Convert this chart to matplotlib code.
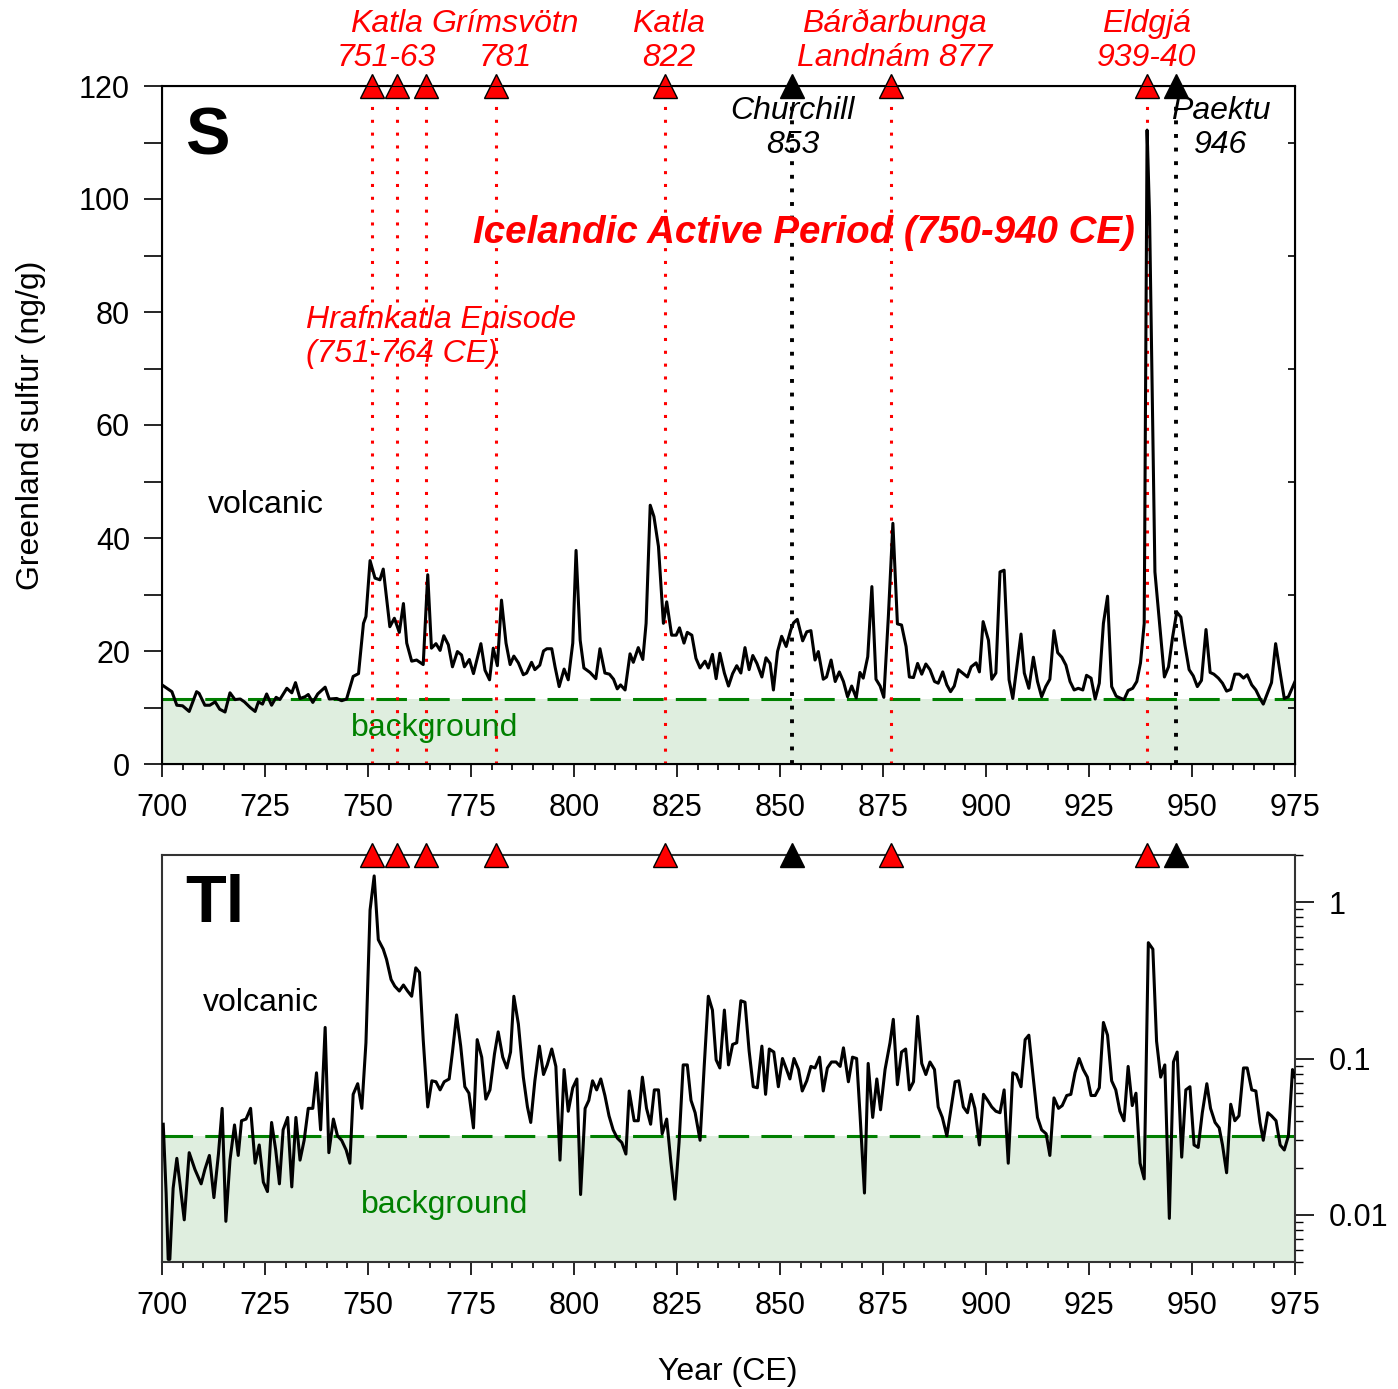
"""Greenland ice-core sulfur and thallium records, 700-975 CE."""

import matplotlib

matplotlib.use("Agg")
import matplotlib.pyplot as plt
import numpy as np
from matplotlib.ticker import FixedLocator, FuncFormatter, LogLocator, MultipleLocator, NullFormatter

plt.rcParams["font.family"] = ["Liberation Sans", "DejaVu Sans"]

RED = "#ff0000"
GREEN = "#008000"
SHADE = "#dfeedf"

# sulfur record (ng/g), digitised vertices
S_YEAR = [
    700.0, 702.4, 703.6, 705.0, 706.6, 708.4, 709.0, 710.4, 711.6, 712.9,
    714.0, 715.3, 716.5, 717.7, 719.0, 720.0, 721.4, 722.6, 723.4, 724.4,
    725.4, 726.6, 727.7, 728.6, 730.3, 731.5, 732.4, 733.5, 734.7, 735.5,
    736.6, 737.8, 739.6, 740.6, 742.4, 743.6, 744.8, 746.4, 747.7, 748.9,
    749.5, 750.5, 751.7, 752.9, 753.7, 755.3, 756.4, 757.6, 758.6, 759.4,
    760.6, 761.8, 763.4, 764.5, 765.4, 766.5, 767.5, 768.4, 769.5, 770.5,
    771.7, 772.7, 773.4, 774.6, 775.6, 777.4, 778.4, 779.5, 780.4, 781.4,
    782.4, 783.5, 784.5, 785.4, 786.5, 787.7, 788.5, 789.7, 790.5, 791.7,
    792.6, 793.4, 794.6, 795.4, 796.4, 797.6, 798.6, 799.7, 800.5, 801.5,
    802.4, 803.9, 805.3, 806.3, 807.5, 808.6, 809.6, 810.5, 811.3, 812.4,
    813.6, 814.4, 815.6, 816.7, 817.5, 818.5, 819.4, 820.5, 821.7, 822.5,
    823.7, 824.8, 825.6, 826.7, 827.5, 828.6, 829.6, 830.6, 831.8, 832.6,
    833.6, 834.5, 835.4, 836.5, 837.5, 838.5, 839.5, 840.5, 841.5, 842.5,
    843.4, 844.4, 845.6, 846.6, 847.6, 848.4, 849.4, 850.4, 851.5, 852.6,
    853.3, 854.2, 855.5, 856.5, 857.5, 858.5, 859.3, 860.5, 861.3, 862.4,
    863.4, 864.4, 865.4, 866.4, 867.4, 868.5, 869.4, 870.2, 871.3, 872.3,
    873.3, 874.3, 875.2, 876.3, 877.4, 878.5, 879.5, 880.6, 881.4, 882.4,
    883.4, 884.4, 885.4, 886.4, 887.5, 888.4, 889.5, 890.5, 891.4, 892.3,
    893.3, 894.3, 895.5, 896.4, 897.6, 898.4, 899.3, 900.6, 901.4, 902.4,
    903.4, 904.4, 905.6, 906.5, 907.4, 908.5, 909.3, 910.4, 911.5, 912.5,
    913.5, 914.5, 915.5, 916.5, 917.4, 918.4, 919.4, 920.4, 921.4, 922.4,
    923.5, 924.4, 925.5, 926.5, 927.5, 928.5, 929.5, 930.5, 931.6, 932.5,
    933.5, 934.5, 935.6, 936.6, 937.5, 938.4, 939.1, 939.7, 941.0, 942.2,
    943.3, 944.3, 945.3, 946.3, 947.3, 948.3, 949.3, 950.3, 951.3, 952.3,
    953.4, 954.4, 955.3, 956.4, 957.4, 958.4, 959.4, 960.4, 961.5, 962.5,
    963.4, 964.5, 965.5, 966.5, 967.3, 968.3, 969.3, 970.3, 971.4, 972.4,
    973.4, 975.0,
]
S_VALUE = [
    14.0, 12.8, 10.4, 10.3, 9.3, 12.8, 12.5, 10.4, 10.4, 11.0,
    9.7, 9.2, 12.6, 11.4, 11.5, 11.0, 10.0, 9.3, 11.0, 10.6,
    12.4, 10.4, 11.8, 11.4, 13.4, 12.6, 14.4, 11.6, 11.9, 12.3,
    10.9, 12.4, 13.6, 11.5, 11.6, 11.2, 11.5, 15.5, 16.0, 24.9,
    26.1, 36.0, 32.9, 32.6, 34.5, 24.3, 25.8, 23.3, 28.4, 21.4,
    18.2, 18.4, 17.6, 33.5, 20.5, 21.3, 20.1, 22.7, 21.1, 17.2,
    19.9, 19.3, 17.2, 18.5, 16.0, 21.3, 16.6, 14.9, 20.5, 17.4,
    29.0, 21.4, 17.6, 19.1, 17.9, 15.8, 16.1, 18.0, 16.7, 17.5,
    20.0, 20.4, 20.4, 17.2, 13.7, 16.8, 14.9, 21.4, 37.8, 21.9,
    17.0, 16.2, 15.1, 20.4, 16.1, 15.9, 15.0, 13.3, 14.0, 13.1,
    19.5, 18.0, 20.6, 18.5, 24.9, 45.8, 43.8, 38.5, 24.9, 28.7,
    22.8, 22.8, 24.1, 21.4, 23.3, 22.8, 18.7, 17.0, 18.2, 17.0,
    19.4, 15.1, 19.6, 16.1, 13.8, 16.0, 17.4, 16.1, 20.6, 16.7,
    19.2, 17.8, 15.4, 18.8, 17.8, 13.1, 19.9, 22.6, 20.8, 23.7,
    25.0, 25.6, 21.8, 23.4, 23.6, 18.4, 19.9, 15.0, 15.4, 18.4,
    14.6, 16.3, 14.6, 11.9, 13.8, 11.7, 16.2, 15.2, 19.0, 31.4,
    15.0, 13.8, 11.8, 26.1, 42.6, 24.8, 24.6, 20.8, 15.4, 15.3,
    17.8, 15.9, 17.7, 16.7, 14.6, 14.3, 16.3, 14.0, 12.8, 13.8,
    16.7, 16.1, 15.4, 17.2, 17.9, 16.3, 25.2, 21.9, 15.0, 16.1,
    34.0, 34.3, 14.9, 11.6, 16.7, 23.0, 16.1, 13.4, 18.9, 14.6,
    11.9, 13.7, 15.0, 23.6, 19.7, 18.9, 17.5, 14.6, 13.1, 13.4,
    13.1, 15.7, 15.2, 11.5, 14.3, 24.9, 29.7, 13.7, 12.0, 11.7,
    11.4, 13.0, 13.4, 14.6, 17.9, 24.9, 112.2, 97.0, 34.0, 24.3,
    15.4, 17.2, 22.5, 26.9, 26.0, 21.0, 16.7, 15.6, 13.7, 14.8,
    23.8, 16.2, 15.9, 15.2, 14.3, 12.9, 13.2, 15.9, 15.9, 15.2,
    15.8, 14.0, 13.1, 11.6, 10.6, 12.5, 14.4, 21.3, 16.1, 11.6,
    11.9, 14.6,
]

# thallium record (log axis), digitised vertices
TL_YEAR = [
    700.3, 701.0, 701.5, 701.9, 702.7, 703.6, 704.4, 705.4, 706.6, 708.0,
    709.5, 710.4, 711.5, 712.6, 713.7, 714.6, 715.5, 716.5, 717.6, 718.5,
    719.3, 720.4, 721.5, 722.6, 723.6, 724.6, 725.6, 726.6, 727.6, 728.5,
    729.4, 730.5, 731.5, 732.5, 733.5, 734.5, 735.5, 736.6, 737.5, 738.5,
    739.6, 740.5, 741.6, 742.6, 743.6, 744.7, 745.6, 746.4, 747.5, 748.5,
    749.5, 750.5, 751.5, 752.5, 753.7, 754.5, 755.6, 756.5, 757.6, 758.6,
    759.6, 760.6, 761.6, 762.5, 763.4, 764.5, 765.5, 766.5, 767.5, 768.5,
    769.7, 770.5, 771.5, 772.5, 773.5, 774.5, 775.6, 776.5, 777.6, 778.6,
    779.6, 780.7, 781.6, 782.7, 783.7, 784.6, 785.4, 786.5, 787.7, 788.7,
    789.5, 790.5, 791.6, 792.6, 793.5, 794.6, 795.6, 796.6, 797.6, 798.6,
    799.7, 800.7, 801.6, 802.7, 803.6, 804.5, 805.5, 806.5, 807.5, 808.5,
    809.5, 810.5, 811.6, 812.6, 813.4, 814.6, 815.6, 816.6, 817.6, 818.6,
    819.5, 820.5, 821.4, 822.5, 823.5, 824.5, 825.5, 826.5, 827.5, 828.4,
    829.4, 830.6, 831.6, 832.6, 833.6, 834.5, 835.4, 836.5, 837.5, 838.5,
    839.5, 840.5, 841.5, 842.5, 843.5, 844.5, 845.6, 846.5, 847.4, 848.5,
    849.6, 850.6, 851.6, 852.4, 853.4, 854.5, 855.4, 856.5, 857.5, 858.5,
    859.6, 860.5, 861.5, 862.5, 863.6, 864.6, 865.4, 866.6, 867.6, 868.6,
    869.4, 870.5, 871.4, 872.5, 873.5, 874.4, 875.5, 876.7, 877.5, 878.5,
    879.5, 880.5, 881.4, 882.4, 883.4, 884.4, 885.4, 886.4, 887.5, 888.4,
    889.4, 890.5, 891.4, 892.5, 893.4, 894.5, 895.5, 896.4, 897.3, 898.4,
    899.4, 900.4, 901.4, 902.4, 903.4, 904.4, 905.4, 906.5, 907.4, 908.5,
    909.5, 910.4, 911.5, 912.5, 913.5, 914.6, 915.5, 916.5, 917.6, 918.5,
    919.6, 920.6, 921.6, 922.6, 923.6, 924.6, 925.5, 926.5, 927.5, 928.5,
    929.5, 930.5, 931.5, 932.5, 933.5, 934.5, 935.5, 936.4, 937.4, 938.4,
    939.4, 940.5, 941.4, 942.4, 943.4, 944.5, 945.5, 946.4, 947.5, 948.5,
    949.5, 950.5, 951.5, 952.5, 953.6, 954.5, 955.6, 956.6, 957.4, 958.4,
    959.4, 960.4, 961.4, 962.5, 963.4, 964.5, 965.5, 966.5, 967.3, 968.4,
    969.3, 970.4, 971.4, 972.4, 973.4, 974.4, 975.0,
]
TL_VALUE = [
    0.038, 0.0138, 0.0052, 0.0052, 0.0148, 0.023, 0.0155, 0.0093, 0.025, 0.0195,
    0.0158, 0.0195, 0.024, 0.0129, 0.0245, 0.048, 0.0091, 0.0224, 0.0376, 0.024,
    0.040, 0.041, 0.048, 0.0214, 0.028, 0.0162, 0.0141, 0.039, 0.026, 0.0158,
    0.035, 0.042, 0.0151, 0.042, 0.0224, 0.030, 0.048, 0.048, 0.081, 0.035,
    0.158, 0.025, 0.041, 0.032, 0.030, 0.026, 0.0214, 0.059, 0.069, 0.048,
    0.126, 0.89, 1.47, 0.575, 0.50, 0.43, 0.32, 0.29, 0.27, 0.295,
    0.27, 0.25, 0.38, 0.355, 0.132, 0.049, 0.072, 0.071, 0.063, 0.071,
    0.074, 0.11, 0.19, 0.12, 0.066, 0.06, 0.036, 0.132, 0.102, 0.055,
    0.063, 0.107, 0.148, 0.102, 0.087, 0.11, 0.25, 0.166, 0.076, 0.049,
    0.039, 0.072, 0.12, 0.079, 0.091, 0.115, 0.089, 0.0224, 0.085, 0.046,
    0.065, 0.074, 0.0135, 0.048, 0.054, 0.072, 0.063, 0.074, 0.058, 0.043,
    0.035, 0.031, 0.029, 0.0245, 0.062, 0.040, 0.040, 0.076, 0.048, 0.038,
    0.063, 0.063, 0.033, 0.041, 0.022, 0.0126, 0.029, 0.091, 0.091, 0.054,
    0.045, 0.030, 0.089, 0.25, 0.204, 0.098, 0.087, 0.204, 0.091, 0.123,
    0.126, 0.234, 0.229, 0.112, 0.066, 0.065, 0.12, 0.059, 0.115, 0.11,
    0.066, 0.10, 0.085, 0.074, 0.10, 0.085, 0.062, 0.072, 0.089, 0.087,
    0.102, 0.062, 0.087, 0.095, 0.095, 0.089, 0.117, 0.071, 0.102, 0.10,
    0.045, 0.0138, 0.093, 0.042, 0.074, 0.047, 0.085, 0.126, 0.178, 0.068,
    0.11, 0.115, 0.063, 0.071, 0.186, 0.093, 0.079, 0.095, 0.085, 0.049,
    0.042, 0.032, 0.046, 0.071, 0.072, 0.049, 0.045, 0.059, 0.048, 0.028,
    0.059, 0.054, 0.049, 0.046, 0.045, 0.063, 0.0214, 0.081, 0.079, 0.066,
    0.132, 0.141, 0.074, 0.042, 0.035, 0.033, 0.024, 0.056, 0.048, 0.050,
    0.058, 0.059, 0.081, 0.10, 0.085, 0.076, 0.058, 0.058, 0.065, 0.17,
    0.141, 0.072, 0.063, 0.046, 0.040, 0.089, 0.050, 0.060, 0.0214, 0.017,
    0.55, 0.50, 0.129, 0.076, 0.091, 0.0095, 0.095, 0.11, 0.0234, 0.063,
    0.066, 0.028, 0.027, 0.045, 0.069, 0.048, 0.039, 0.036, 0.028, 0.0186,
    0.051, 0.040, 0.043, 0.087, 0.087, 0.063, 0.062, 0.039, 0.030, 0.045,
    0.043, 0.040, 0.028, 0.026, 0.032, 0.085, 0.076,
]

S_BACKGROUND = 11.5
TL_BACKGROUND = 0.032

ICELAND_YEARS = [751, 757, 764, 781, 822, 877, 939]
OTHER_YEARS = [853, 946]

# eruption labels above the sulfur panel: (text, year)
TOP_LABELS = [
    ("Katla\n751-63", 754.5),
    ("Grímsvötn\n781", 783.4),
    ("Katla\n822", 823.0),
    ("Bárðarbunga\nLandnám 877", 877.8),
    ("Eldgjá\n939-40", 939.0),
]
INNER_LABELS = [("Churchill\n853", 853.0), ("Paektu\n946", 957.0)]


def style_year_axis(ax):
    ax.set_xlim(700, 975)
    ax.xaxis.set_major_locator(MultipleLocator(25))
    ax.xaxis.set_minor_locator(MultipleLocator(5))
    ax.tick_params(axis="x", which="major", direction="out", length=9, width=1.2, labelsize=22, pad=12, top=False)
    ax.tick_params(axis="x", which="minor", direction="out", length=4.5, width=1.2, top=False)


def plot_sulfur_panel(ax):
    ymax = 120
    ax.set_ylim(0, ymax)
    ax.fill_between([700, 975], 0, S_BACKGROUND, color=SHADE, lw=0, zorder=0)
    ax.axhline(S_BACKGROUND, color=GREEN, lw=2.2, dashes=(10, 4), zorder=2)
    for yr in ICELAND_YEARS:
        ax.axvline(yr, color=RED, lw=2.2, ls=(0, (1, 3.2)), zorder=2.5)
    for yr in OTHER_YEARS:
        ax.axvline(yr, color="black", lw=2.8, ls=(0, (1, 2.5)), zorder=2.5)
    ax.plot(S_YEAR, S_VALUE, color="black", lw=2.2, zorder=3)

    ax.plot(ICELAND_YEARS, np.full(len(ICELAND_YEARS), ymax), ls="none", marker="^", ms=17,
            mfc=RED, mec="black", mew=1, clip_on=False, zorder=6)
    ax.plot(OTHER_YEARS, np.full(len(OTHER_YEARS), ymax), ls="none", marker="^", ms=17,
            mfc="black", mec="black", mew=1, clip_on=False, zorder=6)

    for label, yr in TOP_LABELS:
        ax.text(yr, 128.0, label, color=RED, style="italic", fontsize=23, ha="center", va="center",
                linespacing=1.15)
    for label, yr in INNER_LABELS:
        ax.text(yr, 112.6, label, color="black", style="italic", fontsize=23, ha="center", va="center",
                linespacing=1.15)

    ax.text(855.8, 94.0, "Icelandic Active Period (750-940 CE)", color=RED, style="italic",
            fontweight="bold", fontsize=27.7, ha="center", va="center")
    ax.text(735.0, 75.6, "Hrafnkatla Episode\n(751-764 CE)", color=RED, style="italic", fontsize=23,
            ha="left", va="center", linespacing=1.15)
    ax.text(711.2, 45.8, "volcanic", fontsize=23, ha="left", va="center")
    ax.text(745.9, 6.4, "background", color=GREEN, fontsize=23, ha="left", va="center")
    ax.text(705.6, 110.8, "S", fontsize=48, fontweight="bold", ha="left", va="center")

    style_year_axis(ax)
    ax.yaxis.set_major_locator(MultipleLocator(10))
    ax.yaxis.set_major_formatter(FuncFormatter(lambda v, p: f"{v:.0f}" if v % 20 == 0 else ""))
    ax.tick_params(axis="y", direction="out", length=13, width=1.2, labelsize=22, pad=10, right=False)

    # inward ticks on the right spine
    right = ax.twinx()
    right.set_ylim(0, ymax)
    right.set_yticks(np.arange(10, ymax, 20))
    right.tick_params(axis="y", direction="in", length=5, width=1.2, labelright=False)
    for side in ax.spines.values():
        side.set_linewidth(1.5)


def plot_thallium_panel(ax):
    ax.set_yscale("log")
    ax.set_ylim(0.005, 2)
    ax.fill_between([700, 975], 0.005, TL_BACKGROUND, color=SHADE, lw=0, zorder=0)
    ax.axhline(TL_BACKGROUND, color=GREEN, lw=2.2, dashes=(10, 4), zorder=2)
    ax.plot(TL_YEAR, TL_VALUE, color="black", lw=2.2, zorder=3)

    ax.plot(ICELAND_YEARS, np.full(len(ICELAND_YEARS), 2.0), ls="none", marker="^", ms=17,
            mfc=RED, mec="black", mew=1, clip_on=False, zorder=6)
    ax.plot(OTHER_YEARS, np.full(len(OTHER_YEARS), 2.0), ls="none", marker="^", ms=17,
            mfc="black", mec="black", mew=1, clip_on=False, zorder=6)

    ax.text(705.6, 0.957, "Tl", fontsize=48, fontweight="bold", ha="left", va="center")
    ax.text(710.0, 0.226, "volcanic", fontsize=23, ha="left", va="center")
    ax.text(748.3, 0.0116, "background", color=GREEN, fontsize=23, ha="left", va="center")

    style_year_axis(ax)
    ax.yaxis.tick_right()
    ax.yaxis.set_major_locator(FixedLocator([0.01, 0.1, 1]))
    ax.yaxis.set_major_formatter(FuncFormatter(lambda v, p: f"{v:g}"))
    ax.yaxis.set_minor_locator(LogLocator(base=10, subs=np.arange(2, 10)))
    ax.yaxis.set_minor_formatter(NullFormatter())
    ax.tick_params(axis="y", which="major", direction="out", length=13.5, width=1.2, labelsize=22, pad=11)
    ax.tick_params(axis="y", which="minor", direction="out", length=6, width=1.0)
    for side in ax.spines.values():
        side.set_linewidth(1.5)
        side.set_edgecolor("#333333")


def main():
    fig = plt.figure(figsize=(13.98, 13.89), dpi=100)
    ax_s = fig.add_axes([162 / 1398, 1 - 764 / 1389, 1133 / 1398, 678 / 1389])
    ax_tl = fig.add_axes([162 / 1398, 1 - 1262 / 1389, 1133 / 1398, 407 / 1389])

    plot_sulfur_panel(ax_s)
    plot_thallium_panel(ax_tl)

    fig.text(31 / 1398, 1 - 425 / 1389, "Greenland sulfur (ng/g)", rotation=90, fontsize=23,
             ha="center", va="center")
    fig.text(728 / 1398, 1 - 1372 / 1389, "Year (CE)", fontsize=23, ha="center", va="center")

    fig.savefig("out.png", dpi=100)
    plt.close(fig)


if __name__ == "__main__":
    main()
